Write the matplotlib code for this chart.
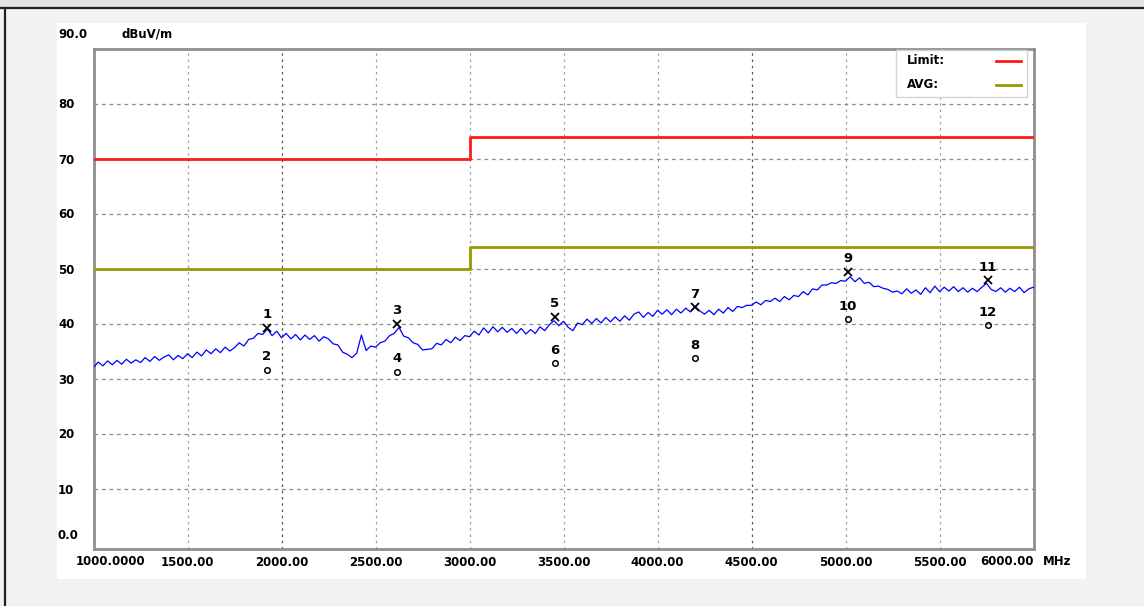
import numpy as np
import matplotlib
matplotlib.use("Agg")
import matplotlib.pyplot as plt
from matplotlib.lines import Line2D
from matplotlib.patches import Rectangle

W, H = 1144, 606

# measured trace, one value every 25 MHz (1000 .. 6000)
freq = np.arange(1000, 6001, 25)
level = [
    32.0, 33.0, 32.3, 33.2, 32.5, 33.3, 32.6, 33.5, 32.8, 33.4,
    32.9, 33.8, 33.1, 34.0, 33.3, 33.9, 34.3, 33.4, 34.2, 33.6,
    34.5, 33.8, 34.8, 34.1, 35.2, 34.5, 35.4, 34.7, 35.7, 35.0,
    35.6, 36.5, 35.9, 37.1, 37.3, 38.2, 38.0, 39.0, 37.8, 38.6,
    37.4, 38.2, 37.2, 38.0, 37.0, 37.9, 37.1, 37.8, 36.8, 37.6,
    37.2, 36.3, 36.1, 34.8, 34.4, 33.8, 34.6, 37.9, 35.1, 35.9,
    35.7, 36.5, 36.8, 37.8, 38.2, 39.3, 37.7, 37.4, 36.5, 36.2,
    35.2, 35.3, 35.4, 36.4, 36.1, 37.1, 36.5, 37.5, 36.9, 37.8,
    37.6, 38.6, 37.9, 39.2, 38.3, 39.4, 38.5, 39.3, 38.4, 39.1,
    38.2, 39.1, 38.1, 38.9, 38.2, 39.4, 38.7, 39.8, 40.5, 39.6,
    40.4, 39.3, 38.7, 40.1, 39.8, 40.8, 40.0, 40.9, 40.1, 41.1,
    40.3, 41.2, 40.4, 41.4, 40.6, 41.7, 42.1, 41.1, 42.0, 41.3,
    42.4, 41.7, 42.5, 41.6, 42.6, 41.9, 42.8, 42.1, 43.1, 42.3,
    41.7, 42.4, 41.6, 42.6, 41.9, 42.9, 42.2, 43.1, 42.9, 43.3,
    43.3, 43.9, 43.4, 44.2, 44.0, 44.6, 44.0, 44.9, 44.3, 45.1,
    44.9, 45.8, 45.2, 46.3, 46.1, 47.0, 47.0, 47.4, 47.3, 47.8,
    47.7, 48.5, 47.6, 48.3, 47.3, 47.5, 46.7, 46.8, 46.4, 46.2,
    45.7, 45.9, 45.4, 46.3, 45.5, 46.1, 45.3, 46.5, 45.6, 46.8,
    45.8, 46.6, 45.9, 46.7, 45.8, 46.5, 45.7, 46.4, 45.8, 46.6,
    47.3, 46.2, 45.8, 46.5, 45.7, 46.4, 45.8, 46.6, 45.6, 46.3,
    46.6,
]

limit_freq = [1000, 3000, 3000, 6000]
limit_val = [70, 70, 74, 74]
avg_limit_val = [50, 50, 54, 54]

mark_freq = [1923, 2614, 3455, 4199, 5013, 5758]
peak_val = [39.2, 40.0, 41.2, 43.0, 49.4, 47.9]
avg_val = [31.6, 31.2, 32.8, 33.7, 40.8, 39.7]
peak_labels = ["1", "3", "5", "7", "9", "11"]
avg_labels = ["2", "4", "6", "8", "10", "12"]

xticks = [1000, 1500, 2000, 2500, 3000, 3500, 4000, 4500, 5000, 5500, 6000]
xtick_labels = ["1000.0000", "1500.00", "2000.00", "2500.00", "3000.00", "3500.00",
                "4000.00", "4500.00", "5000.00", "5500.00", "6000.00"]
yticks = [10, 20, 30, 40, 50, 60, 70, 80]
ytick_labels = ["10", "20", "30", "40", "50", "60", "70", "80"]
legend_labels = ["Limit:", "AVG:"]

RED = "#ff1a1a"
OLIVE = "#999900"

plt.rcParams["font.family"] = ["DejaVu Sans"]
plt.rcParams["font.weight"] = "bold"
plt.rcParams["font.size"] = 8.5

fig = plt.figure(figsize=(W / 100, H / 100), dpi=100, facecolor="#f2f2f2")

# window decorations: top strip, borders, white panel (behind the axes)
fig.add_artist(Rectangle((0, 1 - 7 / H), 1, 7 / H, transform=fig.transFigure,
                         facecolor="#e2e2e2", edgecolor="none", zorder=-10))
fig.add_artist(Line2D([0, 1], [1 - 7.5 / H, 1 - 7.5 / H], transform=fig.transFigure,
                      color="#202020", lw=1.6, zorder=-9))
fig.add_artist(Line2D([5 / W, 5 / W], [0, 1 - 7.5 / H], transform=fig.transFigure,
                      color="#202020", lw=1.6, zorder=-9))
fig.add_artist(Rectangle((57 / W, 1 - 579 / H), (1086 - 57) / W, (579 - 23) / H,
                         transform=fig.transFigure, facecolor="white", edgecolor="none",
                         zorder=-10))

left, right, top, bottom = 93.5, 1033.5, 48.5, 549
ax = fig.add_axes([left / W, 1 - bottom / H, (right - left) / W, (bottom - top) / H])
ax.set_facecolor("white")

ax.plot(freq, level, color="#0000ff", lw=0.9, zorder=3)
ax.plot(limit_freq, limit_val, color=RED, lw=2, zorder=4)
ax.plot(limit_freq, avg_limit_val, color=OLIVE, lw=2, zorder=4)

ax.plot(mark_freq, peak_val, ls="none", marker="x", ms=6, mew=1.3, color="black", zorder=5)
ax.plot(mark_freq, avg_val, ls="none", marker="o", ms=4, mew=1.1, mfc="none",
        mec="black", zorder=5)
for f, v, t in zip(mark_freq, peak_val, peak_labels):
    ax.annotate(t, (f, v), xytext=(0, 9.3), textcoords="offset points",
                ha="center", va="center", fontsize=9.5, zorder=6)
for f, v, t in zip(mark_freq, avg_val, avg_labels):
    ax.annotate(t, (f, v), xytext=(0, 9.3), textcoords="offset points",
                ha="center", va="center", fontsize=9.5, zorder=6)

ax.set_xlim(1000, 6000)
ax.set_ylim(-1, 90)

ax.set_xticks(xticks)
ax.set_xticklabels([""] + xtick_labels[1:-1] + [""])
ax.set_yticks(yticks)
ax.set_yticklabels(ytick_labels, ha="left")
ax.tick_params(axis="x", length=0, pad=5, labelsize=8.5)
ax.tick_params(axis="y", length=0, pad=25.6, labelsize=8.5)

ax.grid(True, axis="y", color="#8a8a8a", ls=(0, (3, 3)), lw=0.9)
ax.grid(True, axis="x", color="#a0a0a0", ls=(0, (2, 3)), lw=0.9)
gl = ax.xaxis.get_gridlines()
gl[2].set_color("#555555")
gl[7].set_color("#555555")

for s in ax.spines.values():
    s.set_color("#8f8f8f")
    s.set_linewidth(2)

# edge labels that sit off their tick
ax.annotate(xtick_labels[0], (1000, 0), xycoords=("data", "axes fraction"),
            xytext=(-12.6, -8.9), textcoords="offset points", ha="left", va="center")
ax.annotate(xtick_labels[-1], (6000, 0), xycoords=("data", "axes fraction"),
            xytext=(0, -8.9), textcoords="offset points", ha="right", va="center")
ax.annotate("MHz", (1, 0), xycoords="axes fraction",
            xytext=(7, -8.9), textcoords="offset points", ha="left", va="center")
ax.annotate("0.0", (0, 0), xycoords=("axes fraction", "data"),
            xytext=(-25.6, 6.1), textcoords="offset points", ha="left", va="center")
ax.annotate("90.0", (0, 90), xycoords=("axes fraction", "data"),
            xytext=(-25.6, 10.4), textcoords="offset points", ha="left", va="center")
ax.annotate("dBuV/m", (0, 90), xycoords=("axes fraction", "data"),
            xytext=(19.8, 10.4), textcoords="offset points", ha="left", va="center")

# legend box, laid out like the original (labels left, line samples right)
fig.add_artist(Rectangle((896 / W, 1 - 97 / H), (1027 - 896) / W, (97 - 50) / H,
                         transform=fig.transFigure, facecolor="white",
                         edgecolor="#d4d4d4", lw=1, zorder=5))
for row_y, lab, col in zip([61, 85], legend_labels, [RED, OLIVE]):
    fig.text(907 / W, 1 - row_y / H, lab, ha="left", va="center", zorder=6)
    fig.add_artist(Line2D([996 / W, 1021 / W], [1 - row_y / H, 1 - row_y / H],
                          transform=fig.transFigure, color=col, lw=2, zorder=6))

fig.savefig("out.png", dpi=100, facecolor=fig.get_facecolor())
